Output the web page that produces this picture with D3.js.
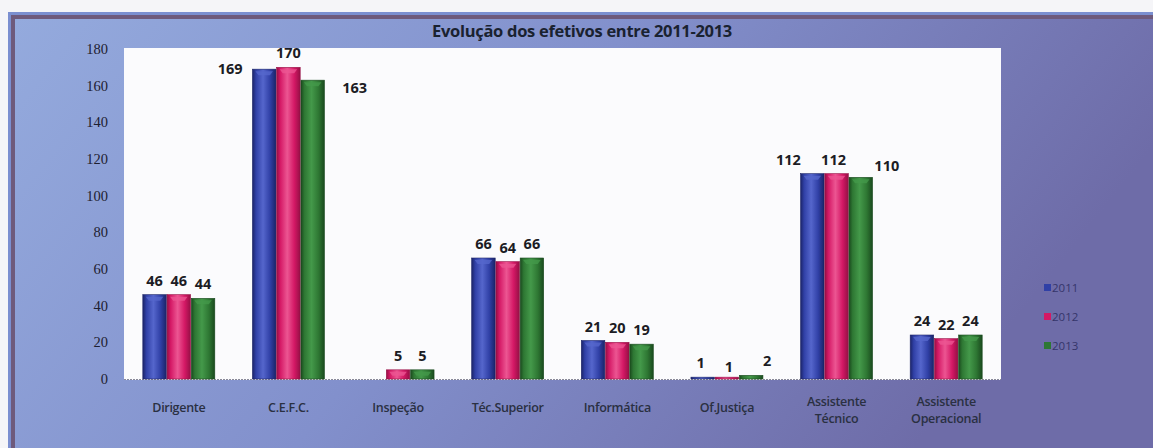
<!DOCTYPE html>
<html>
<head>
<meta charset="utf-8">
<script src="https://cdn.jsdelivr.net/npm/d3@7"></script>
<style>
  body { margin: 0; background: #f5f5f8; }
  svg { display: block; }
</style>
</head>
<body>
<svg width="1153" height="448"></svg>
<script>
const width = 1153;
const height = 448;

const categories = ["Dirigente", "C.E.F.C.", "Inspeção", "Téc.Superior", "Informática", "Of.Justiça", "Assistente Técnico", "Assistente Operacional"];
const years = ["2011", "2012", "2013"];
const values2011 = [46, 169, null, 66, 21, 1, 112, 24];
const values2012 = [46, 170, 5, 64, 20, 1, 112, 22];
const values2013 = [44, 163, 5, 66, 19, 2, 110, 24];
const yTicks = [0, 20, 40, 60, 80, 100, 120, 140, 160, 180];

const series = [values2011, values2012, values2013];
const colors = {
  "2011": { main: "#3040a6", edge: "#1b2468", light: "#5566cc" },
  "2012": { main: "#d41865", edge: "#960f45", light: "#ec5592" },
  "2013": { main: "#2e7733", edge: "#1a4a1e", light: "#44994a" }
};

// label nudges where Excel pushed labels sideways
const labelShift = {
  "C.E.F.C.|2011": [-34, 14], "C.E.F.C.|2013": [42, 22],
  "Assistente Técnico|2011": [-24, 0], "Assistente Técnico|2012": [-3, 0], "Assistente Técnico|2013": [26, 3],
  "Of.Justiça|2011": [-2, 0], "Of.Justiça|2012": [2, 4], "Of.Justiça|2013": [16, 0]
};

const svg = d3.select("svg");
const defs = svg.append("defs");

const bg = defs.append("linearGradient").attr("id", "bg")
  .attr("x1", "0").attr("y1", "0").attr("x2", "1").attr("y2", "0.3");
bg.append("stop").attr("offset", "0").attr("stop-color", "#94aadd");
bg.append("stop").attr("offset", "0.5").attr("stop-color", "#8290cc");
bg.append("stop").attr("offset", "1").attr("stop-color", "#6e6ca8");

years.forEach(y => {
  const g = defs.append("linearGradient").attr("id", "bar" + y)
    .attr("x1", "0").attr("y1", "0").attr("x2", "1").attr("y2", "0");
  const c = colors[y];
  g.append("stop").attr("offset", "0").attr("stop-color", c.edge);
  g.append("stop").attr("offset", "0.15").attr("stop-color", c.main);
  g.append("stop").attr("offset", "0.45").attr("stop-color", c.light);
  g.append("stop").attr("offset", "0.75").attr("stop-color", c.main);
  g.append("stop").attr("offset", "1").attr("stop-color", c.edge);
});

// frame
svg.append("rect").attr("x", 8).attr("y", 12).attr("width", width - 8).attr("height", height - 12)
  .attr("fill", "#7b8fd0");
svg.append("rect").attr("x", 11).attr("y", 15).attr("width", width - 11).attr("height", height - 15)
  .attr("fill", "#6e5a7c");
svg.append("rect").attr("x", 15).attr("y", 19).attr("width", width - 15).attr("height", height - 19)
  .attr("fill", "url(#bg)");

const plot = { left: 124, right: 1001, top: 48, bottom: 380 };
svg.append("rect").attr("x", plot.left).attr("y", plot.top)
  .attr("width", plot.right - plot.left).attr("height", plot.bottom - plot.top)
  .attr("fill", "#fbfbfd");

const x0 = d3.scaleBand().domain(categories).range([plot.left, plot.right])
  .paddingInner(0.33).paddingOuter(0.165);
const x1 = d3.scaleBand().domain(years).range([0, x0.bandwidth()]).padding(0.03);
const y = d3.scaleLinear().domain([0, 180]).range([379, 49]);

// y axis
const yAxis = svg.append("g").attr("transform", `translate(${plot.left},0)`)
  .call(d3.axisLeft(y).tickValues(yTicks).tickSize(0).tickPadding(16));
yAxis.select(".domain").remove();
yAxis.selectAll("text")
  .attr("font-family", "Liberation Serif, serif").attr("font-size", 14.5).attr("fill", "#1e2030");

// baseline
svg.append("line").attr("x1", plot.left).attr("x2", plot.right)
  .attr("y1", y(0) + 0.5).attr("y2", y(0) + 0.5)
  .attr("stroke", "#8a8a9a").attr("stroke-dasharray", "2,1");

// bars
const rows = categories.map((c, i) => ({
  cat: c,
  items: years.map((yr, j) => ({ cat: c, year: yr, value: series[j][i] }))
}));

const groups = svg.append("g").selectAll("g").data(rows).join("g")
  .attr("transform", d => `translate(${x0(d.cat)},0)`);

const bars = groups.selectAll("g.bar").data(d => d.items.filter(v => v.value != null)).join("g")
  .attr("class", "bar");

bars.append("rect")
  .attr("x", d => x1(d.year))
  .attr("y", d => y(d.value))
  .attr("width", x1.bandwidth())
  .attr("height", d => Math.max(1.5, y(0) - y(d.value)))
  .attr("fill", d => `url(#bar${d.year})`)
  .attr("stroke", d => colors[d.year].edge)
  .attr("stroke-width", 0.6);

// top highlight cap
bars.filter(d => y(0) - y(d.value) > 8).append("path")
  .attr("d", d => {
    const bx = x1(d.year) + 3, bw = x1.bandwidth() - 6, by = y(d.value) + 2;
    return `M${bx},${by}L${bx + bw},${by}L${bx + bw - 3},${by + 4}L${bx + 3},${by + 4}Z`;
  })
  .attr("fill", d => colors[d.year].light)
  .attr("opacity", 0.8);

// value labels
bars.append("text")
  .attr("x", d => x1(d.year) + x1.bandwidth() / 2 + (labelShift[d.cat + "|" + d.year] || [0, 0])[0])
  .attr("y", d => y(d.value) - 9 + (labelShift[d.cat + "|" + d.year] || [0, 0])[1])
  .attr("text-anchor", "middle")
  .attr("font-family", "Open Sans, sans-serif")
  .attr("font-weight", "bold")
  .attr("font-size", 14.5)
  .attr("fill", "#1c1c24")
  .text(d => d.value);

// category labels
const catLabels = svg.append("g").selectAll("text").data(categories).join("text")
  .attr("x", d => x0(d) + x0.bandwidth() / 2)
  .attr("y", 412)
  .attr("text-anchor", "middle")
  .attr("font-family", "Open Sans, sans-serif")
  .attr("font-weight", 600)
  .attr("font-size", 12.5)
  .attr("letter-spacing", -0.3)
  .attr("fill", "#2a3042");
catLabels.each(function(d) {
  const words = d.startsWith("Assistente") ? d.split(" ") : [d];
  const t = d3.select(this);
  if (words.length > 1) t.attr("y", 406);
  words.forEach((w, i) => {
    t.append("tspan").attr("x", x0(d) + x0.bandwidth() / 2).attr("dy", i ? 17 : 0).text(w);
  });
});

// title
svg.append("text").attr("x", 582).attr("y", 37).attr("text-anchor", "middle")
  .attr("font-family", "Open Sans, sans-serif").attr("font-weight", "bold").attr("font-size", 16.5)
  .attr("letter-spacing", -0.3)
  .attr("fill", "#1a2230")
  .text("Evolução dos efetivos entre 2011-2013");

// legend
const legend = svg.append("g").selectAll("g").data(years).join("g")
  .attr("transform", (d, i) => `translate(1044,${288 + i * 29})`);
legend.append("rect").attr("x", 0).attr("y", -4).attr("width", 7).attr("height", 7)
  .attr("fill", d => colors[d].main);
legend.append("text").attr("x", 8).attr("y", 4)
  .attr("font-family", "Open Sans, sans-serif").attr("font-size", 11.5)
  .attr("fill", "#35356a")
  .text(d => d);
</script>
</body>
</html>
